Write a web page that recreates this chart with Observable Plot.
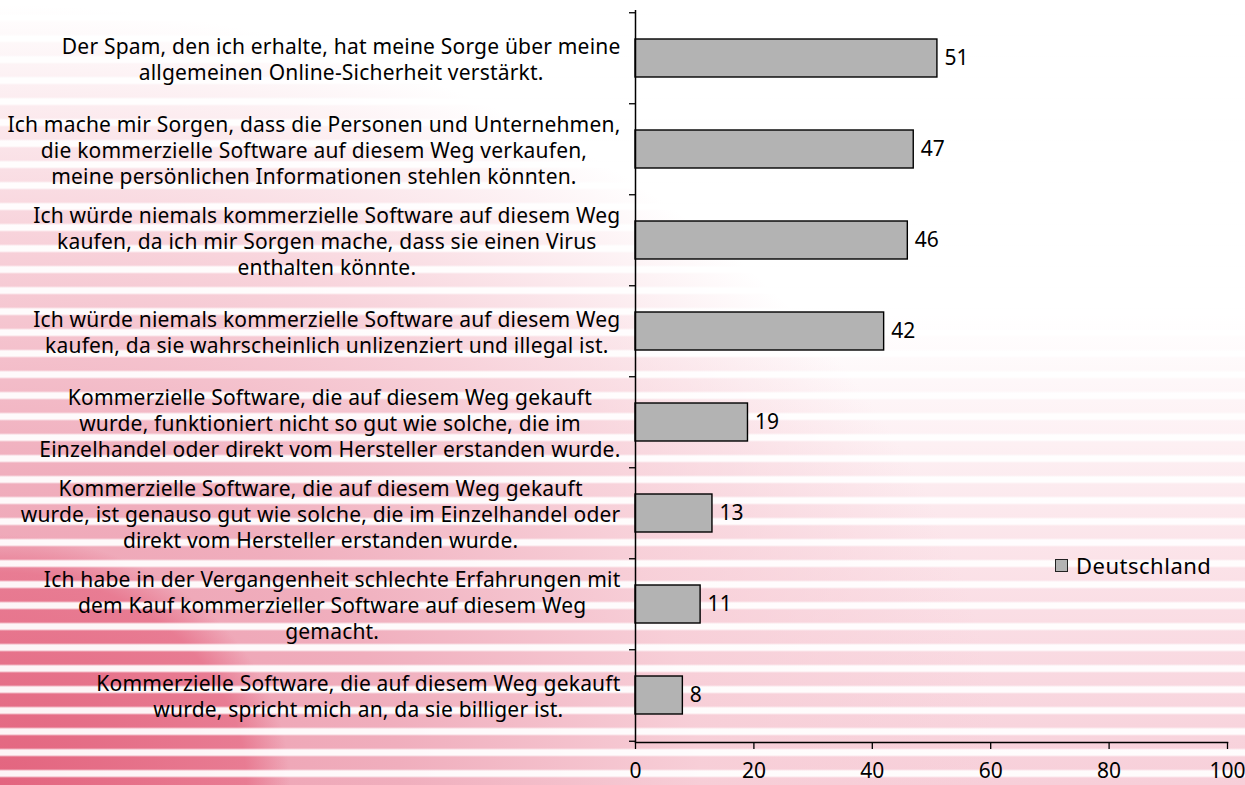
<!DOCTYPE html>
<html>
<head>
<meta charset="utf-8">
<script src="https://cdn.jsdelivr.net/npm/d3@7"></script>
<script src="https://cdn.jsdelivr.net/npm/@observablehq/plot@0.6"></script>
<style>
  html, body { margin: 0; padding: 0; }
  body { width: 1245px; height: 785px; overflow: hidden; position: relative; font-family: "Noto Sans", sans-serif; }
  #bg {
    position: absolute; left: 0; top: 0; width: 1245px; height: 785px;
    background:
      repeating-linear-gradient(to bottom, rgba(255,255,255,0.93) 0px, rgba(255,255,255,0.93) 5px, rgba(255,255,255,0) 7px, rgba(255,255,255,0) 19px, rgba(255,255,255,0.93) 21px) 0 15px / 100% 21px repeat,
      radial-gradient(ellipse 290px 250px at 0px 785px, rgba(226,95,122,0.9) 0px, rgba(230,110,135,0.75) 85%, rgba(230,110,135,0) 100%),
      radial-gradient(ellipse 1000px 780px at 0% 100%, #ec98ab 0%, #f0aebd 40%, rgba(247,206,215,0.92) 70%, rgba(255,255,255,0) 100%),
      linear-gradient(to bottom, #ffffff 0%, #ffffff 40%, #fbe2e8 72%, #f7cfd9 100%);
  }
  #chart { position: absolute; left: 0; top: 0; }
  #legend { position: absolute; left: 1055px; top: 550px; font-size: 22px; letter-spacing: 0.5px; display: flex; align-items: center; color: #000; }
  #legend .sw { width: 11px; height: 11px; background: #b3b3b3; border: 1.3px solid #222; margin-right: 8px; }
</style>
</head>
<body>
<div id="bg"></div>
<div id="chart"></div>
<div id="legend"><span class="sw"></span><span id="legendText"></span></div>
<script>
const categories = [
  "Der Spam, den ich erhalte, hat meine Sorge über meine\nallgemeinen Online-Sicherheit verstärkt.",
  "Ich mache mir Sorgen, dass die Personen und Unternehmen,\ndie kommerzielle Software auf diesem Weg verkaufen,\nmeine persönlichen Informationen stehlen könnten.",
  "Ich würde niemals kommerzielle Software auf diesem Weg\nkaufen, da ich mir Sorgen mache, dass sie einen Virus\nenthalten könnte.",
  "Ich würde niemals kommerzielle Software auf diesem Weg\nkaufen, da sie wahrscheinlich unlizenziert und illegal ist.",
  "Kommerzielle Software, die auf diesem Weg gekauft\nwurde, funktioniert nicht so gut wie solche, die im\nEinzelhandel oder direkt vom Hersteller erstanden wurde.",
  "Kommerzielle Software, die auf diesem Weg gekauft\nwurde, ist genauso gut wie solche, die im Einzelhandel oder\ndirekt vom Hersteller erstanden wurde.",
  "Ich habe in der Vergangenheit schlechte Erfahrungen mit\ndem Kauf kommerzieller Software auf diesem Weg\ngemacht.",
  "Kommerzielle Software, die auf diesem Weg gekauft\nwurde, spricht mich an, da sie billiger ist."
];
const values = [51, 47, 46, 42, 19, 13, 11, 8];
const xTicks = [0, 20, 40, 60, 80, 100];
const seriesName = "Deutschland";

const data = categories.map((c, i) => ({category: c, value: values[i]}));

const W = 1245, H = 785, mt = 10, mb = 43, ml = 635, mr = 18;
const step = (H - mt - mb) / categories.length;
const pad = 0.585;

const plot = Plot.plot({
  width: W, height: H,
  marginLeft: ml, marginRight: mr, marginTop: mt, marginBottom: mb,
  style: {background: "transparent", fontFamily: "Noto Sans", color: "#000", overflow: "visible"},
  x: {domain: [0, 100]},
  y: {domain: categories, paddingInner: pad, paddingOuter: pad / 2},
  marks: [
    Plot.barX(data, {x: "value", y: "category", fill: "#b3b3b3", stroke: "#000", strokeWidth: 1.4}),
    Plot.text(data, {x: "value", y: "category", text: d => String(d.value), textAnchor: "start", dx: 7, fontSize: 21, fill: "#000"}),
    Plot.ruleY(categories, {y: d => d, x1: 0, x2: 0, insetLeft: -6, dy: -step / 2, stroke: "#000", strokeWidth: 1.3}),
    Plot.ruleY([categories[categories.length - 1]], {y: d => d, x1: 0, x2: 0, insetLeft: -6, dy: step / 2, stroke: "#000", strokeWidth: 1.3}),
    Plot.ruleX([0], {stroke: "#000", strokeWidth: 1.5}),
    Plot.frame({anchor: "bottom", stroke: "#000", strokeWidth: 1.5}),
    Plot.axisX({ticks: xTicks, tickSize: 7, tickPadding: 14, fontSize: 21, label: null, strokeWidth: 1.3}),
    Plot.axisY({tickSize: 0, tickPadding: 15, fontSize: 21, lineHeight: 1.24, label: null, textAnchor: "end"})
  ]
});

document.getElementById("chart").append(plot);
document.getElementById("legendText").textContent = seriesName;

// center the lines of each category label within its (right-aligned) block
plot.querySelectorAll('g[aria-label="y-axis tick label"] text').forEach(t => {
  t.style.letterSpacing = "0.2px";
  const spans = Array.from(t.querySelectorAll("tspan"));
  if (!spans.length) return;
  const w = Math.max(...spans.map(s => s.getComputedTextLength()));
  t.setAttribute("text-anchor", "middle");
  spans.forEach(s => s.setAttribute("x", -w / 2));
});
</script>
</body>
</html>
